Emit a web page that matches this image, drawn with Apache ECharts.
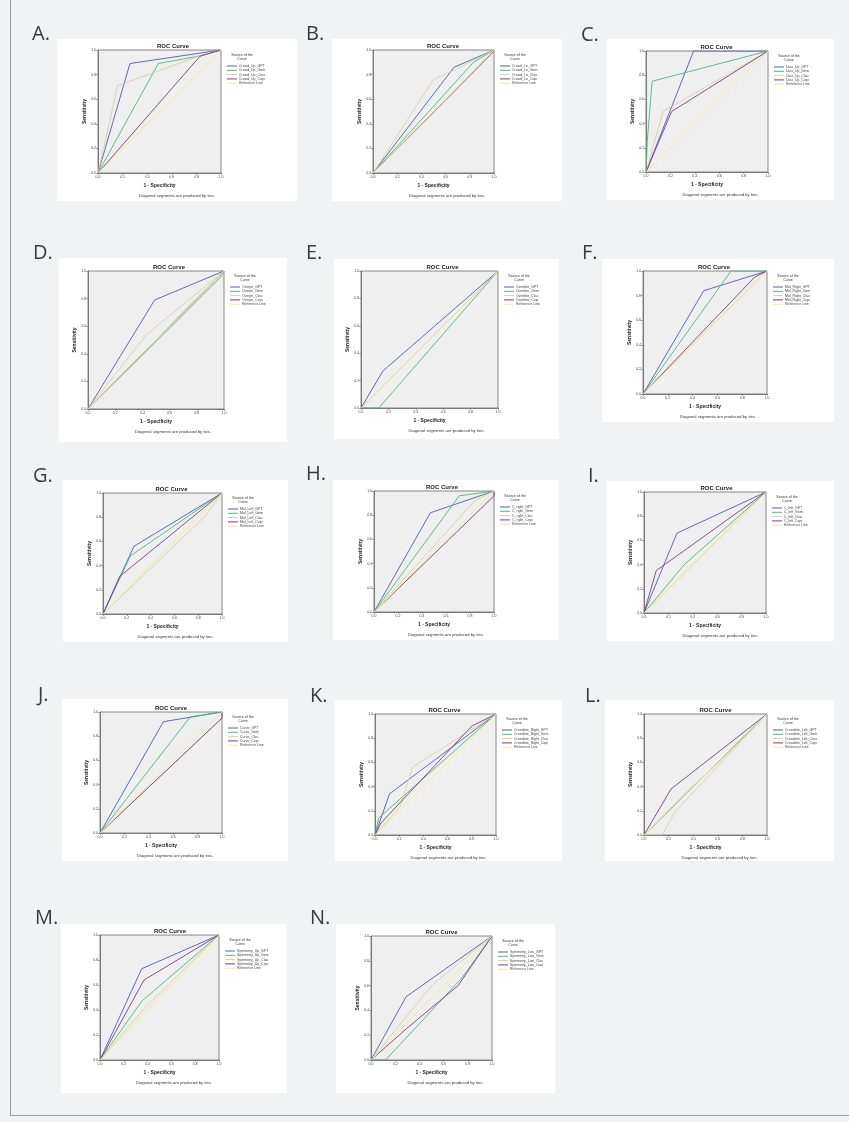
<!DOCTYPE html>
<html>
<head>
<meta charset="utf-8">
<script src="https://cdn.jsdelivr.net/npm/echarts@6/dist/echarts.min.js"></script>
<style>
  body { margin: 0; background: #f1f2f4; }
  #wrap { position: relative; width: 849px; height: 1122px; overflow: hidden; }
  #frame { position: absolute; left: 10px; top: -1px; width: 840px; height: 1117px; border: 1px solid #9c9c9c; box-sizing: border-box; }
  .card { position: absolute; background: #fff; }
  #chart { position: absolute; left: 0; top: 0; width: 849px; height: 1122px; }
</style>
</head>
<body>
<div id="wrap"><div id="frame"></div><div id="chart"></div></div>
<script>
// panels, curve names
var panelIds = ['A', 'B', 'C', 'D', 'E', 'F', 'G', 'H', 'I', 'J', 'K', 'L', 'M', 'N'];
var curvePrefix = ['Crowd_Up', 'Crowd_Lo', 'Dias_Up', 'Overjet', 'Overbite', 'Mol_Right', 'Mol_Left',
    'C_right', 'C_left', 'Curve', 'Crossbite_Right', 'Crossbite_Left', 'Symmetry_Up', 'Symmetry_Low'];
var modelTags = ['GPT', 'Gem', 'Clau', 'Copi'];
var refName = 'Reference Line';
var axisTicks = [0, 0.2, 0.4, 0.6, 0.8, 1.0];
var refLine = [[0, 0], [1, 1]];

// ROC points [1 - specificity, sensitivity], order: GPT, Gem, Clau, Copi
var rocA = [
    [[0, 0], [0.26, 0.89], [1, 1]],
    [[0, 0], [0.49, 0.89], [0.82, 0.95], [1, 1]],
    [[0, 0], [0.16, 0.71], [0.82, 0.95], [1, 1]],
    [[0, 0], [0.83, 0.95], [1, 1]]
];
var rocB = [
    [[0, 0], [0.67, 0.86], [1, 1]],
    [[0, 0], [0.83, 0.90], [1, 1]],
    [[0, 0], [0.50, 0.76], [0.68, 0.84], [1, 1]],
    [[0, 0], [0.98, 0.97], [1, 1]]
];
var rocC = [
    [[0, 0], [0.39, 1], [1, 1]],
    [[0, 0], [0.01, 0.25], [0.05, 0.75], [1, 1]],
    [[0, 0], [0.14, 0.50], [1, 1]],
    [[0, 0], [0.21, 0.50], [1, 1]]
];
var rocD = [
    [[0, 0], [0.49, 0.79], [1, 1]],
    [[0, 0], [0.97, 0.95], [1, 1]],
    [[0, 0], [0.43, 0.54], [1, 1]],
    [[0, 0], [1, 1]]
];
var rocE = [
    [[0, 0], [0.16, 0.27], [1, 1]],
    [[0, 0], [0.13, 0], [1, 1]],
    [[0, 0], [1, 1]],
    [[0, 0], [1, 1]]
];
var rocF = [
    [[0, 0], [0.49, 0.84], [1, 1]],
    [[0, 0], [0.71, 1], [1, 1]],
    [[0, 0], [1, 1]],
    [[0, 0], [0.90, 0.95], [1, 1]]
];
var rocG = [
    [[0, 0], [0.26, 0.56], [1, 1]],
    [[0, 0], [0.23, 0.48], [1, 1]],
    [[0, 0], [0.86, 0.81], [1, 1]],
    [[0, 0], [0.14, 0.31], [1, 1]]
];
var rocH = [
    [[0, 0], [0.47, 0.82], [1, 1]],
    [[0, 0], [0.71, 0.96], [1, 1]],
    [[0, 0], [0.84, 0.92], [1, 1]],
    [[0, 0], [1, 0.96], [1, 1]]
];
var rocI = [
    [[0, 0], [0.27, 0.66], [1, 1]],
    [[0, 0], [0.33, 0.40], [1, 1]],
    [[0, 0], [1, 1]],
    [[0, 0], [0.10, 0.35], [1, 1]]
];
var rocJ = [
    [[0, 0], [0.52, 0.92], [1, 1]],
    [[0, 0], [0.74, 0.96], [1, 1]],
    [[0, 0], [1, 0.95], [1, 1]],
    [[0, 0], [1, 0.95], [1, 1]]
];
var rocK = [
    [[0, 0], [0.12, 0.34], [1, 1]],
    [[0, 0], [0.03, 0.14], [1, 1]],
    [[0, 0], [0.21, 0.24], [0.31, 0.56], [1, 1]],
    [[0, 0], [0.05, 0.10], [0.80, 0.90], [1, 1]]
];
var rocL = [
    [[0, 0], [1, 1]],
    [[0, 0], [1, 1]],
    [[0, 0], [0.15, 0], [0.25, 0.19], [1, 1]],
    [[0, 0], [0.22, 0.38], [1, 1]]
];
var rocM = [
    [[0, 0], [0.35, 0.73], [1, 1]],
    [[0, 0], [0.35, 0.47], [1, 1]],
    [[0, 0], [0.38, 0.42], [1, 1]],
    [[0, 0], [0.37, 0.64], [1, 1]]
];
var rocN = [
    [[0, 0], [0.29, 0.51], [1, 1]],
    [[0, 0], [0.12, 0], [0.75, 0.66], [1, 1]],
    [[0, 0], [0.50, 0.60], [1, 1]],
    [[0, 0], [0.29, 0.25], [0.72, 0.60], [1, 1]]
];
var rocAll = [rocA, rocB, rocC, rocD, rocE, rocF, rocG, rocH, rocI, rocJ, rocK, rocL, rocM, rocN];

// layout: card [x, y, w, h], plot [left, top, w, h], letter [x, baseline]
var layout = [
    {card: [57, 39, 240, 162], plot: [98, 50, 123, 123], letter: [32, 44]},
    {card: [332, 39, 230, 162], plot: [373, 50, 121, 123], letter: [306, 44]},
    {card: [607, 39, 227, 161], plot: [646, 51, 122, 121], letter: [581, 45]},
    {card: [59, 258, 228, 184], plot: [88, 271, 136, 138], letter: [33, 263]},
    {card: [334, 259, 225, 180], plot: [361, 271, 137, 137], letter: [306, 263]},
    {card: [602, 259, 232, 163], plot: [643, 271, 124, 123], letter: [582, 263]},
    {card: [63, 480, 225, 162], plot: [103, 493, 119, 121], letter: [33, 486]},
    {card: [333, 480, 226, 160], plot: [374, 491, 120, 121], letter: [306, 484]},
    {card: [607, 481, 227, 160], plot: [644, 492, 122, 121], letter: [588, 486]},
    {card: [62, 699, 226, 162], plot: [100, 712, 122, 121], letter: [38, 705]},
    {card: [335, 700, 227, 161], plot: [375, 714, 121, 121], letter: [310, 706]},
    {card: [605, 700, 229, 161], plot: [644, 714, 123, 121], letter: [585, 706]},
    {card: [61, 924, 226, 169], plot: [100, 935, 119, 125], letter: [35, 928]},
    {card: [336, 924, 219, 169], plot: [371, 936, 121, 124], letter: [310, 928]}
];

var modelColors = ['#4f5cb0', '#4cb87a', '#d8d0a2', '#7e3c80'];
var refColor = '#f3e98a';
var spssFont = '"Liberation Sans", Arial, sans-serif';

// white cards behind the canvas
var wrap = document.getElementById('wrap');
var chartDiv = document.getElementById('chart');
layout.forEach(function (l) {
    var d = document.createElement('div');
    d.className = 'card';
    d.style.left = l.card[0] + 'px';
    d.style.top = l.card[1] + 'px';
    d.style.width = l.card[2] + 'px';
    d.style.height = l.card[3] + 'px';
    wrap.insertBefore(d, chartDiv);
});

var myChart = echarts.init(chartDiv, null, {renderer: 'canvas'});

var grids = [], xAxes = [], yAxes = [], series = [], legends = [], graphics = [];

function tickLabel(v) {
    return axisTicks.indexOf(v) >= 0 ? v.toFixed(1) : '';
}

panelIds.forEach(function (id, i) {
    var l = layout[i];
    var p = l.plot;
    var plotRight = p[0] + p[2];
    var plotBottom = p[1] + p[3];
    var cardMid = l.card[0] + l.card[2] / 2;

    grids.push({
        left: p[0], top: p[1], width: p[2], height: p[3],
        show: true, backgroundColor: '#efefef', borderColor: '#6a6a6a', borderWidth: 0.8
    });

    var axisCommon = {
        gridIndex: i, type: 'value', min: 0, max: 1, interval: 0.2,
        nameLocation: 'middle',
        nameTextStyle: {fontSize: 5, fontWeight: 'bold', color: '#222', fontFamily: spssFont},
        axisLine: {show: true, lineStyle: {color: '#6a6a6a', width: 0.8}},
        axisTick: {show: true, length: 2, lineStyle: {color: '#6a6a6a', width: 0.6}},
        axisLabel: {fontSize: 3.5, margin: 2, color: '#444', fontFamily: spssFont, formatter: tickLabel},
        splitLine: {show: false}
    };
    xAxes.push(Object.assign({}, axisCommon, {name: '1 - Specificity', nameGap: 10}));
    yAxes.push(Object.assign({}, axisCommon, {name: 'Sensitivity', nameGap: 9}));

    var names = modelTags.map(function (m) { return curvePrefix[i] + '_' + m; });
    var legendData = [];

    rocAll[i].forEach(function (pts, k) {
        series.push({
            name: names[k], type: 'line', xAxisIndex: i, yAxisIndex: i,
            data: pts, symbol: 'none', silent: true, animation: false,
            lineStyle: {width: 0.9, color: modelColors[k]},
            itemStyle: {color: modelColors[k]}
        });
        legendData.push({name: names[k], itemStyle: {color: modelColors[k]}});
    });
    series.push({
        name: refName, type: 'line', xAxisIndex: i, yAxisIndex: i,
        data: refLine, symbol: 'none', silent: true, animation: false,
        lineStyle: {width: 0.9, color: refColor},
        itemStyle: {color: refColor}
    });
    legendData.push({name: refName, itemStyle: {color: refColor}});

    legends.push({
        data: legendData,
        orient: 'vertical', left: plotRight + 6, top: p[1] + 14,
        icon: 'rect', itemWidth: 10, itemHeight: 1, itemGap: 0.3, selectedMode: false,
        textStyle: {fontSize: 3.5, lineHeight: 4, color: '#444', fontFamily: spssFont, padding: [0, 0, 0, -3]},
        padding: 0
    });

    // panel letter
    graphics.push({
        type: 'text', x: l.letter[0], y: l.letter[1],
        style: {text: id + '.', fontSize: 20, fontFamily: '"Open Sans", sans-serif',
            fill: '#3a3a3a', align: 'left', verticalAlign: 'bottom'}
    });
    // chart title
    graphics.push({
        type: 'text', x: cardMid - 4, y: p[1] - 4,
        style: {text: 'ROC Curve', fontSize: 6, fontWeight: 'bold', fontFamily: spssFont,
            fill: '#222', align: 'center', verticalAlign: 'middle'}
    });
    // legend heading
    graphics.push({
        type: 'text', x: plotRight + 21, y: p[1] + 7,
        style: {text: 'Source of the\nCurve', fontSize: 3.6, lineHeight: 3.8, fontFamily: spssFont,
            fill: '#333', align: 'center', verticalAlign: 'middle'}
    });
    // footnote
    graphics.push({
        type: 'text', x: cardMid, y: plotBottom + 23,
        style: {text: 'Diagonal segments are produced by ties.', fontSize: 4.2, fontFamily: spssFont,
            fill: '#333', align: 'center', verticalAlign: 'middle'}
    });
});

var option = {
    animation: false,
    grid: grids,
    xAxis: xAxes,
    yAxis: yAxes,
    legend: legends,
    series: series,
    graphic: graphics
};

myChart.setOption(option);
</script>
</body>
</html>
